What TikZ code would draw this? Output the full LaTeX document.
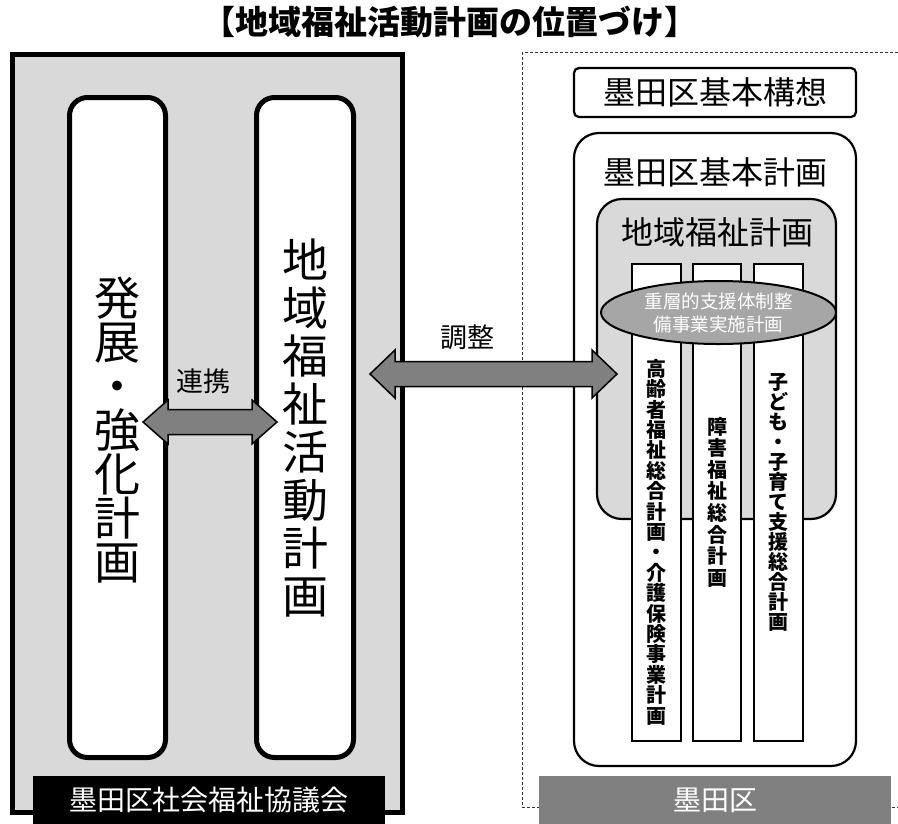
\documentclass[tikz,border=0pt]{standalone}
\usepackage{fontspec}
\setmainfont{Noto Sans CJK JP}
\usepackage{tikz}
\usetikzlibrary{calc,shapes.geometric}

\definecolor{boxgray}{HTML}{D9D9D9}
\definecolor{arrowgray}{HTML}{808080}
\definecolor{ovalgray}{HTML}{A6A6A6}

\tikzset{
  column/.style={draw, line width=5pt, fill=white, rounded corners=18pt, inner sep=0pt, minimum height=660pt},
  planbox/.style={draw, line width=2.2pt, inner sep=0pt},
  subplan/.style={draw, line width=2pt, fill=white, inner sep=0pt, minimum width=49pt, minimum height=477pt},
  darrow/.style={draw, line width=1.5pt, fill=arrowgray, line join=miter},
  vtext/.style={align=center, inner sep=0pt},
  tag/.style={inner sep=0pt, minimum height=48pt, text=white, font=\fontsize{28}{28}\selectfont},
}

% double block arrow between two named points
\newcommand{\dblarrow}[3]{%
  \draw[darrow] let \p1=(#1), \p2=(#2) in
    (\p1) -- (\x1+25pt,\y1+#3) -- (\x1+25pt,\y1+12.5pt) -- (\x2-25pt,\y1+12.5pt)
    -- (\x2-25pt,\y1+#3) -- (\p2) -- (\x2-25pt,\y1-#3) -- (\x2-25pt,\y1-12.5pt)
    -- (\x1+25pt,\y1-12.5pt) -- (\x1+25pt,\y1-#3) -- cycle;}

\begin{document}
\begin{tikzpicture}[x=1pt, y=-1pt]
  \useasboundingbox[fill=white] (0,0) rectangle (898,823);

  \node[font=\fontsize{33}{33}\selectfont\bfseries] (title) at (450,22) {【地域福祉活動計画の位置づけ】};

  % shakyo side
  \node[draw, line width=5pt, fill=boxgray, inner sep=0pt, minimum width=390pt, minimum height=758pt] (shakyo) at (207.5,433.5) {};
  \node[column, minimum width=96pt] (hatten) at (117.5,427.5) {};
  \node[column, minimum width=97pt] (katsudo) at (305,427.5) {};
  \node[vtext, font=\fontsize{46}{44}\selectfont] (hattentext) at (117.5,430) {発\\展\\・\\強\\化\\計\\画};
  \node[vtext, font=\fontsize{46}{48}\selectfont] (katsudotext) at (305,428) {地\\域\\福\\祉\\活\\動\\計\\画};
  \node[font=\fontsize{27}{27}\selectfont] (renkei) at (203,381) {連携};
  \coordinate (renkeiL) at (143,422);
  \coordinate (renkeiR) at (277,422);
  \dblarrow{renkeiL}{renkeiR}{22pt}
  \node[tag, fill=black, minimum width=352pt] (shakyotag) at (209,800) {墨田区社会福祉協議会};

  % ward side
  \draw[densely dashed, line width=0.8pt, black!80] (522,52) rectangle (930,807);
  \node[planbox, fill=white, rounded corners=5pt, minimum width=282pt, minimum height=49pt,
        font=\fontsize{32}{32}\selectfont] (koso) at (715,92.5) {墨田区基本構想};
  \node[planbox, fill=white, rounded corners=25pt, minimum width=282pt, minimum height=633pt] (kihon) at (715,449.5) {};
  \node[font=\fontsize{32}{32}\selectfont] (kihontext) at (715,172) {墨田区基本計画};
  \node[planbox, fill=boxgray, rounded corners=25pt, minimum width=239pt, minimum height=320pt] (chiiki) at (716.5,359) {};
  \node[font=\fontsize{32}{32}\selectfont] (chiikitext) at (717,232) {地域福祉計画};
  \node[subplan] (korei) at (656.5,502.5) {};
  \node[subplan, minimum width=48pt] (shogai) at (717,502.5) {};
  \node[subplan] (kodomo) at (778.5,502.5) {};
  \node[vtext, font=\fontsize{20}{20.4}\selectfont\bfseries] (koreitext) at (656.5,542)
    {高\\齢\\者\\福\\祉\\総\\合\\計\\画\\・\\介\\護\\保\\険\\事\\業\\計\\画};
  \node[vtext, font=\fontsize{20}{21.6}\selectfont\bfseries] (shogaitext) at (717,502)
    {障\\害\\福\\祉\\総\\合\\計\\画};
  \node[vtext, font=\fontsize{20}{20}\selectfont\bfseries] (kodomotext) at (778.5,502)
    {子\\ど\\も\\・\\子\\育\\て\\支\\援\\総\\合\\計\\画};
  \node[ellipse, draw, line width=2pt, fill=ovalgray, minimum width=235pt, minimum height=63pt, inner sep=0pt,
        text=white, align=center, font=\fontsize{18.5}{23}\selectfont] (jusou) at (718.5,312.5)
    {重層的支援体制整\\備事業実施計画};
  \node[tag, fill=arrowgray, minimum width=352pt] (kutag) at (715,800) {墨田区};

  % link between both
  \node[font=\fontsize{27}{27}\selectfont] (chosei) at (467,337) {調整};
  \coordinate (choseiL) at (370,374);
  \coordinate (choseiR) at (617,374);
  \dblarrow{choseiL}{choseiR}{24pt}
\end{tikzpicture}
\end{document}
